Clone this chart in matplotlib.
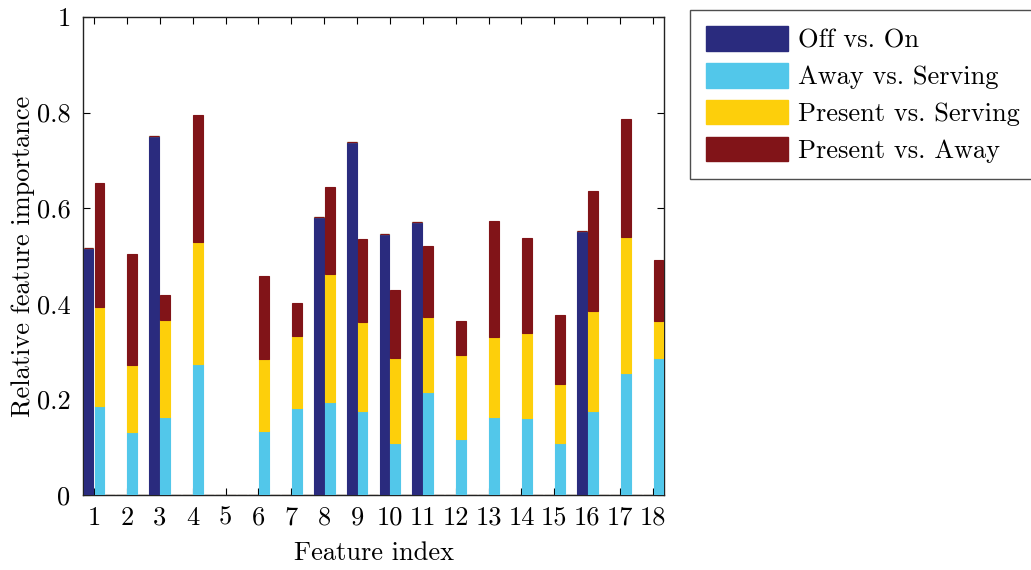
import numpy as np
import matplotlib
matplotlib.use("Agg")
import matplotlib.pyplot as plt
from matplotlib.patches import Patch

features = list(range(1, 19))
series_names = ["Off vs. On", "Away vs. Serving", "Present vs. Serving", "Present vs. Away"]
off_on = [0.516, 0, 0.751, 0, 0, 0, 0, 0.582, 0.739, 0.545, 0.571, 0, 0, 0, 0, 0.552, 0, 0]
away_serving = [0.186, 0.132, 0.163, 0.275, 0, 0.134, 0.181, 0.195, 0.176, 0.109,
                0.216, 0.118, 0.164, 0.161, 0.109, 0.176, 0.255, 0.287]
present_serving = [0.208, 0.140, 0.203, 0.254, 0, 0.150, 0.152, 0.267, 0.185, 0.178,
                   0.156, 0.174, 0.166, 0.177, 0.123, 0.208, 0.285, 0.078]
present_away = [0.258, 0.232, 0.052, 0.265, 0, 0.174, 0.068, 0.182, 0.175, 0.142,
                0.148, 0.072, 0.243, 0.200, 0.145, 0.251, 0.247, 0.127]
colors = ["#2a2b7e", "#52c7ea", "#fdcf0b", "#811418"]

plt.rcParams['font.family'] = ['cmr10', 'DejaVu Serif']
plt.rcParams['axes.formatter.use_mathtext'] = True
plt.rcParams['mathtext.fontset'] = 'cm'

FS = 19

fig = plt.figure(figsize=(10.31, 5.70), dpi=100)
ax = fig.add_axes([83/1031, 75/570, 581/1031, 478/570])

n = len(features)
x = np.array(features, dtype=float)
slot = 1/3
# three slots per feature: Off/On bar, stacked bar, empty slot
pos = np.concatenate([x - slot/2, x + slot/2, x + 1.5*slot])
zeros = np.zeros(n)
slot_vals = [
    np.concatenate([off_on, zeros, zeros]),
    np.concatenate([zeros, away_serving, zeros]),
    np.concatenate([zeros, present_serving, zeros]),
    np.concatenate([zeros, present_away, zeros]),
]
bottom = np.zeros(3*n)
for vals, c in zip(slot_vals, colors):
    ax.bar(pos, vals, width=slot*0.9, bottom=bottom, color=c, edgecolor=c,
           linewidth=0.8, zorder=3)
    bottom = bottom + vals

ax.set_xlim(1 - slot, 18 + slot)
ax.set_ylim(0, 1)
ax.set_xticks(features)
ax.set_xticklabels([str(f) for f in features])
ax.set_yticks([0, 0.2, 0.4, 0.6, 0.8, 1])
ax.set_yticklabels(["0", "0.2", "0.4", "0.6", "0.8", "1"])
ax.tick_params(direction='in', length=5, width=0.8, top=True, right=True,
               labelsize=FS)
ax.tick_params(axis='x', pad=8)
ax.tick_params(axis='y', pad=9)
for s in ax.spines.values():
    s.set_linewidth(1.0)
    s.set_color('#222222')
ax.set_xlabel("Feature index", fontsize=FS, labelpad=8)
ax.set_ylabel("Relative feature importance", fontsize=FS, labelpad=1)

handles = [Patch(facecolor=c, edgecolor=c) for c in colors]
leg = fig.legend(handles, series_names, loc='upper left',
                 bbox_to_anchor=(690/1031, 1 - 10/570), fontsize=FS,
                 frameon=True, fancybox=False, edgecolor='#222222',
                 handlelength=3.1, handleheight=1.05, handletextpad=0.38,
                 labelspacing=0.4, borderpad=0.62, borderaxespad=0)
leg.get_frame().set_linewidth(1.0)

fig.savefig("out.png", dpi=100)
